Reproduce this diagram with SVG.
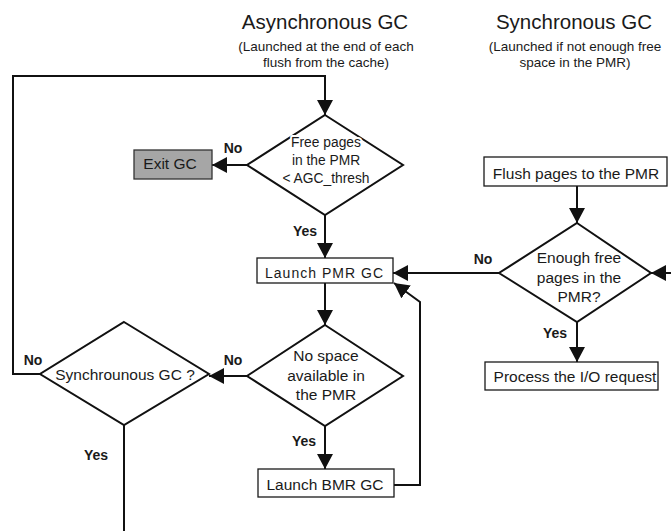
<svg xmlns="http://www.w3.org/2000/svg" width="671" height="531" viewBox="0 0 671 531">
<style>
  text { font-family: "Liberation Sans", Arial, sans-serif; fill: #1a1a1a; text-anchor: middle; }
  .title { font-size: 20.5px; }
  .sub { font-size: 13.5px; }
  .box { fill: #ffffff; stroke: #1a1a1a; stroke-width: 1.3; }
  .exit { fill: #a6a6a6; stroke: #333333; stroke-width: 1.3; }
  .dia { fill: none; stroke: #111111; stroke-width: 2; }
  .bt { font-size: 15.5px; }
  .dt { font-size: 15.5px; stroke: #ffffff; stroke-width: 4; paint-order: stroke; stroke-linejoin: round; }
  .lbl { font-size: 14px; font-weight: bold; }
  .conn { fill: none; stroke: #111111; stroke-width: 2; }
</style>
<defs>
  <marker id="arr" markerUnits="userSpaceOnUse" markerWidth="16" markerHeight="16" refX="15" refY="8" orient="auto">
    <path d="M0,0 L15,8 L0,16 z" fill="#111111"/>
  </marker>
</defs>
<rect width="671" height="531" fill="#ffffff"/>

<g id="titles">
  <text class="title" x="325" y="29">Asynchronous GC</text>
  <text class="sub" x="326" y="51">(Launched at the end of each</text>
  <text class="sub" x="326" y="67">flush from the cache)</text>
  <text class="title" x="574" y="29">Synchronous GC</text>
  <text class="sub" x="575" y="51">(Launched if not enough free</text>
  <text class="sub" x="575" y="67">space in the PMR)</text>
</g>

<g id="connectors">
  <polyline class="conn" points="40,374 13,374 13,76 325,76 325,115" marker-end="url(#arr)"/>
  <line class="conn" x1="247" y1="165" x2="212" y2="165" marker-end="url(#arr)"/>
  <line class="conn" x1="325" y1="215" x2="325" y2="258" marker-end="url(#arr)"/>
  <line class="conn" x1="325" y1="283" x2="325" y2="325" marker-end="url(#arr)"/>
  <line class="conn" x1="247" y1="376" x2="209" y2="376" marker-end="url(#arr)"/>
  <line class="conn" x1="325" y1="426" x2="325" y2="469" marker-end="url(#arr)"/>
  <polyline class="conn" points="394,485 420,485 420,302 394,283" marker-end="url(#arr)"/>
  <line class="conn" x1="577" y1="186" x2="577" y2="223" marker-end="url(#arr)"/>
  <line class="conn" x1="499" y1="273" x2="393" y2="273" marker-end="url(#arr)"/>
  <line class="conn" x1="671" y1="273" x2="651" y2="273" marker-end="url(#arr)"/>
  <line class="conn" x1="577" y1="322" x2="577" y2="362" marker-end="url(#arr)"/>
  <line class="conn" x1="124" y1="425" x2="124" y2="531"/>
  <text class="lbl" x="233" y="153">No</text>
  <text class="lbl" x="305" y="236">Yes</text>
  <text class="lbl" x="233" y="365">No</text>
  <text class="lbl" x="33" y="365">No</text>
  <text class="lbl" x="96" y="460">Yes</text>
  <text class="lbl" x="304" y="446">Yes</text>
  <text class="lbl" x="483" y="264">No</text>
  <text class="lbl" x="555" y="338">Yes</text>
</g>

<g id="free-pages">
  <polygon class="dia" points="325,115 403,165 325,215 247,165"/>
  <text class="dt" style="font-size:13.8px" x="326" y="147">Free pages</text>
  <text class="dt" style="font-size:13.8px" x="326" y="165">in the PMR</text>
  <text class="dt" style="font-size:13.8px" x="326" y="183">&lt; AGC_thresh</text>
</g>

<g id="exit-gc">
  <rect class="exit" x="134" y="150" width="78" height="29"/>
  <text class="bt" x="170" y="169">Exit GC</text>
</g>

<g id="launch-pmr">
  <rect class="box" x="257" y="258" width="136" height="25"/>
  <text class="bt" style="font-size:14px" x="324" y="278" textLength="118" lengthAdjust="spacing">Launch PMR GC</text>
</g>

<g id="no-space">
  <polygon class="dia" points="325,325 403,376 325,426 247,376"/>
  <text class="dt" x="326" y="361">No space</text>
  <text class="dt" x="326" y="381">available in</text>
  <text class="dt" x="326" y="400">the PMR</text>
</g>

<g id="launch-bmr">
  <rect class="box" x="258" y="469" width="136" height="28"/>
  <text class="bt" x="325" y="490">Launch BMR GC</text>
</g>

<g id="sync-gc">
  <polygon class="dia" points="124,322 209,374 124,425 40,374"/>
  <text class="dt" x="125" y="380">Synchrounous GC ?</text>
</g>

<g id="flush">
  <rect class="box" x="484" y="157" width="183" height="29"/>
  <text class="bt" x="576" y="179">Flush pages to the PMR</text>
</g>

<g id="enough">
  <polygon class="dia" points="577,223 651,273 577,322 499,273"/>
  <text class="dt" x="579" y="263">Enough free</text>
  <text class="dt" x="579" y="283">pages in the</text>
  <text class="dt" x="579" y="302">PMR?</text>
</g>

<g id="process">
  <rect class="box" x="485" y="362" width="173" height="28"/>
  <text class="bt" x="575" y="382">Process the I/O request</text>
</g>
</svg>
